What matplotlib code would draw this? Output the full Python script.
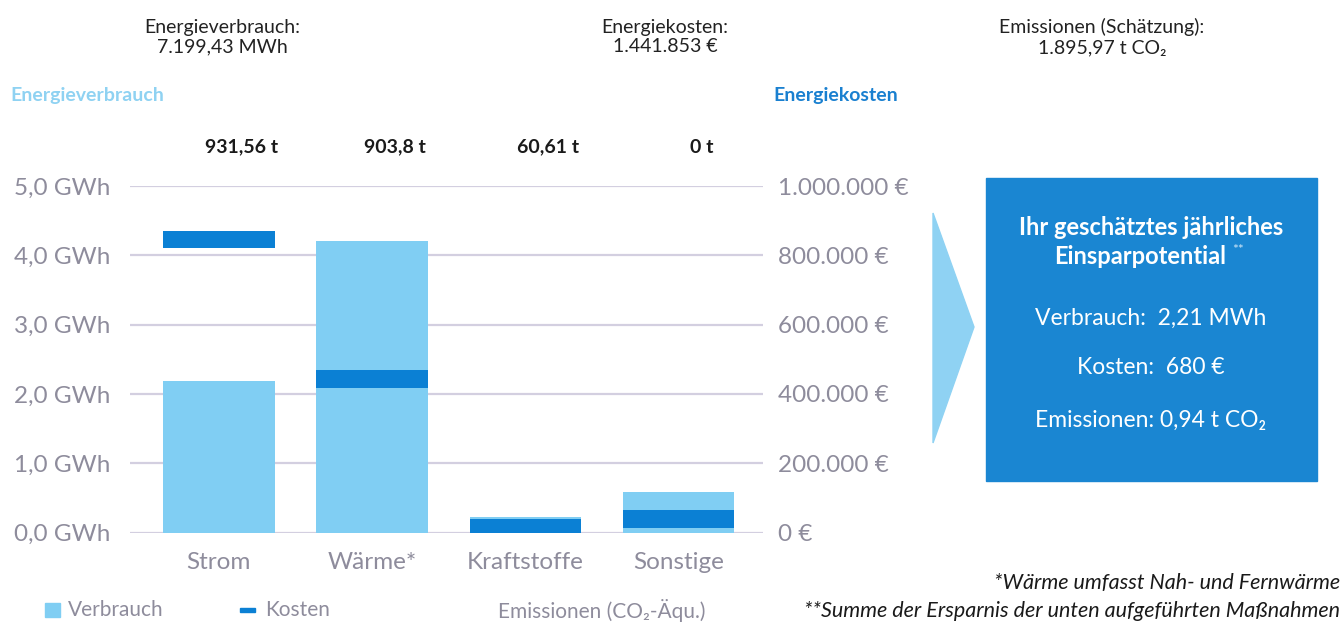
import matplotlib
matplotlib.use('Agg')
import matplotlib.pyplot as plt
from matplotlib.patches import Polygon, Rectangle

plt.rcParams['font.family'] = ['Lato', 'DejaVu Sans']

# data
categories = ['Strom', 'Wärme*', 'Kraftstoffe', 'Sonstige']
verbrauch_gwh = [2.18, 4.20, 0.22, 0.59]
kosten_eur = [870000, 468000, 40000, 64000]
emission_labels = ['931,56 t', '903,8 t', '60,61 t', '0 t']
left_ticks = [0, 1, 2, 3, 4, 5]
right_ticks = [0, 200000, 400000, 600000, 800000, 1000000]

LIGHT = '#80cef3'
DARK = '#0b80d4'
GREY = '#8e8c9c'
GRID = '#d3cfe0'
W, H = 1343, 623
band = 50000  # thickness of the cost marker in euro


def fx(px):
    return px / W


def fy(py):
    return 1 - py / H


fig = plt.figure(figsize=(13.43, 6.23), dpi=100)
ax = fig.add_axes([fx(130), fy(532.5), fx(763) - fx(130), fy(186) - fy(532.5)])
ax2 = ax.twinx()

x = range(len(categories))
ax.bar(x, verbrauch_gwh, width=0.727, color=LIGHT, zorder=2)
bottoms = [k - band for k in kosten_eur]
ax2.bar(x, band, bottom=bottoms, width=0.727, color=DARK, zorder=3)

ax.set_ylim(0, 5)
ax2.set_ylim(0, 1000000)
ax.set_xlim(-0.58, 3.55)
ax.set_yticks(left_ticks)
ax.set_yticklabels([f'{v:.1f}'.replace('.', ',') + ' GWh' for v in left_ticks])
ax2.set_yticks(right_ticks)
ax2.set_yticklabels([f'{v:,.0f}'.replace(',', '.') + ' €' for v in right_ticks])
ax.set_xticks(list(x))
ax.set_xticklabels(categories)

for a in (ax, ax2):
    for s in a.spines.values():
        s.set_visible(False)
    a.tick_params(length=0, colors=GREY, labelsize=17.5)
ax.tick_params(axis='y', pad=14)
ax2.tick_params(axis='y', pad=11)
ax.tick_params(axis='x', pad=14)
ax.yaxis.grid(True, color=GRID, linewidth=1.6, zorder=0)
ax.set_axisbelow(True)
ax2.patch.set_visible(False)

for i, lab in enumerate(emission_labels):
    ax.text(i + 0.15, 5.56, lab, ha='center', va='center', fontsize=14,
            fontweight='bold', color='#1a1a1a', clip_on=False)

# header
fig.text(fx(222), fy(37), 'Energieverbrauch:\n7.199,43 MWh', ha='center', va='center',
         fontsize=14, color='#222222', linespacing=1.2)
fig.text(fx(665), fy(37), 'Energiekosten:\n1.441.853 €', ha='center', va='center',
         fontsize=14, color='#222222', linespacing=1.2)
fig.text(fx(1102), fy(37), 'Emissionen (Schätzung):\n1.895,97 t CO₂', ha='center', va='center',
         fontsize=14, color='#222222', linespacing=1.2)
fig.text(fx(10), fy(95), 'Energieverbrauch', ha='left', va='center', fontsize=14,
         fontweight='bold', color='#8fd2f2')
fig.text(fx(898), fy(95), 'Energiekosten', ha='right', va='center', fontsize=14,
         fontweight='bold', color='#1a80d0')

# arrow and savings box
fig.patches.append(Polygon([[fx(933), fy(213)], [fx(974), fy(327)], [fx(933), fy(443)]],
                           closed=True, transform=fig.transFigure, color='#8fd2f3'))
fig.patches.append(Rectangle((fx(986), fy(481)), fx(1317) - fx(986), fy(178) - fy(481),
                             transform=fig.transFigure, color='#1a86d2'))
fig.text(fx(1151), fy(227), 'Ihr geschätztes jährliches', ha='center',
         va='center', fontsize=17, fontweight='bold', color='white')
fig.text(fx(1140), fy(257), 'Einsparpotential', ha='center',
         va='center', fontsize=17, fontweight='bold', color='white')
fig.text(fx(1232), fy(250), '**', ha='left', va='center', fontsize=10, color='#cfe6f7')
fig.text(fx(1151), fy(318), 'Verbrauch:  2,21 MWh', ha='center', va='center',
         fontsize=16.5, color='white')
fig.text(fx(1151), fy(368), 'Kosten:  680 €', ha='center', va='center',
         fontsize=16.5, color='white')
fig.text(fx(1151), fy(420), 'Emissionen: 0,94 t CO₂', ha='center', va='center',
         fontsize=16.5, color='white')

# legend
fig.patches.append(Rectangle((fx(45), fy(617)), fx(15), fy(603) - fy(617),
                             transform=fig.transFigure, color=LIGHT))
fig.text(fx(68), fy(610), 'Verbrauch', ha='left', va='center', fontsize=15, color=GREY)
fig.patches.append(Rectangle((fx(240), fy(612)), fx(15), fy(608) - fy(612),
                             transform=fig.transFigure, color=DARK))
fig.text(fx(265), fy(610), 'Kosten', ha='left', va='center', fontsize=15, color=GREY)
fig.text(fx(498), fy(610), 'Emissionen (CO₂-Äqu.)', ha='left', va='center',
         fontsize=15, color=GREY)

# footnotes
fig.text(fx(1340), fy(583), '*Wärme umfasst Nah- und Fernwärme', ha='right', va='center',
         fontsize=15.5, style='italic', color='#1a1a1a')
fig.text(fx(1340), fy(611), '**Summe der Ersparnis der unten aufgeführten Maßnahmen',
         ha='right', va='center', fontsize=15.5, style='italic', color='#1a1a1a')

fig.savefig('out.png', dpi=100)
